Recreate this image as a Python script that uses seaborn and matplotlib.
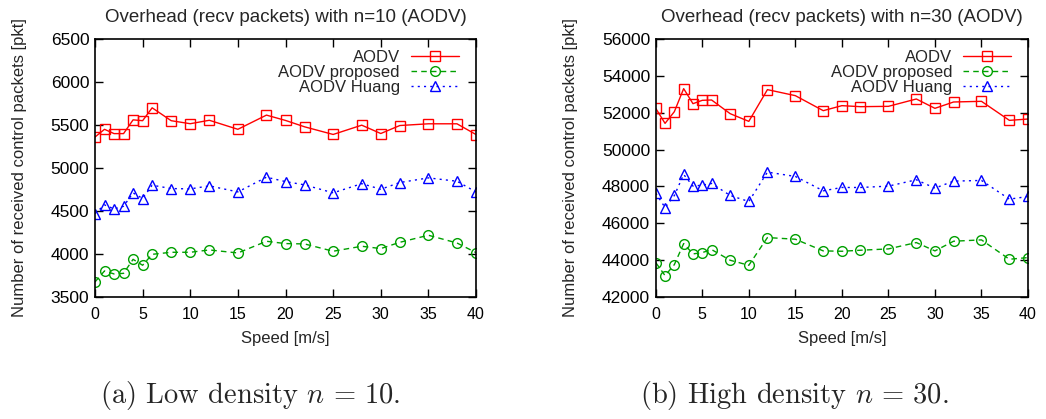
import matplotlib
matplotlib.use("Agg")
import matplotlib.pyplot as plt
import seaborn as sns
import pandas as pd

# Mobility speeds [m/s]
speed = [0, 1, 2, 3, 4, 5, 6, 8, 10, 12, 15, 18, 20, 22, 25, 28, 30, 32, 35, 38, 40]

# Received control packets, n = 10
aodv_n10 = [5360, 5450, 5400, 5400, 5560, 5550, 5700, 5550, 5515, 5555, 5450,
            5615, 5553, 5479, 5390, 5498, 5401, 5494, 5514, 5514, 5389]
proposed_n10 = [3675, 3803, 3768, 3775, 3938, 3869, 3996, 4020, 4020, 4047, 4012,
                4148, 4121, 4117, 4032, 4090, 4063, 4136, 4218, 4128, 4016]
huang_n10 = [4470, 4571, 4524, 4555, 4711, 4645, 4800, 4761, 4757, 4792, 4722,
             4893, 4842, 4804, 4711, 4818, 4753, 4831, 4885, 4846, 4721]

# Received control packets, n = 30
aodv_n30 = [52238, 51422, 52057, 53307, 52491, 52673, 52691, 51948, 51531, 53253, 52926,
            52111, 52383, 52328, 52346, 52745, 52238, 52582, 52618, 51585, 51658]
proposed_n30 = [43866, 43160, 43758, 44899, 44337, 44410, 44573, 43993, 43721, 45225, 45135,
                44501, 44482, 44537, 44609, 44954, 44501, 45026, 45099, 44048, 44138]
huang_n30 = [47635, 46856, 47508, 48650, 48016, 48070, 48161, 47508, 47182, 48777, 48541,
             47762, 47943, 47943, 48016, 48360, 47907, 48288, 48324, 47309, 47454]

series_names = ["AODV", "AODV proposed", "AODV Huang"]
titles = ["Overhead (recv packets) with n=10 (AODV)", "Overhead (recv packets) with n=30 (AODV)"]
captions = [r"(a) Low density $n\,=\,10$.", r"(b) High density $n\,=\,30$."]
y_ranges = [(3500, 6500, 500), (42000, 56000, 2000)]

sns.set_style("ticks")
plt.rcParams["font.family"] = ["Liberation Sans", "DejaVu Sans"]
plt.rcParams["mathtext.fontset"] = "cm"

styles = {
    "AODV": dict(color="#ff0000", marker="s", linestyle="-"),
    "AODV proposed": dict(color="#00a000", marker="o", linestyle=(0, (4, 3))),
    "AODV Huang": dict(color="#0000ff", marker="^", linestyle=(0, (1.5, 3))),
}

fig = plt.figure(figsize=(10.46, 4.19), dpi=100)
ax_boxes = [[0.0908, 0.2912, 0.3643, 0.6157], [0.6269, 0.2912, 0.3559, 0.6157]]
caption_x = [250 / 1046, 794 / 1046]
data_sets = [[aodv_n10, proposed_n10, huang_n10], [aodv_n30, proposed_n30, huang_n30]]

for i in range(2):
    ax = fig.add_axes(ax_boxes[i])
    rows = []
    for name, vals in zip(series_names, data_sets[i]):
        for s, v in zip(speed, vals):
            rows.append({"speed": s, "packets": v, "series": name})
    df = pd.DataFrame(rows)
    for name in series_names:
        st = styles[name]
        sns.lineplot(data=df[df["series"] == name], x="speed", y="packets", ax=ax,
                     color=st["color"], marker=st["marker"], linestyle=st["linestyle"],
                     markersize=7 if st["marker"] != "^" else 6.5,
                     markerfacecolor="none", markeredgecolor=st["color"],
                     markeredgewidth=1.0, linewidth=1.0, label=name)
    lo, hi, step = y_ranges[i]
    ax.set_xlim(0, 40)
    ax.set_ylim(lo, hi)
    ax.set_xticks(range(0, 41, 5))
    ax.set_yticks(range(lo, hi + 1, step))
    ax.tick_params(direction="in", length=6, width=1, top=True, right=True,
                   colors="black")
    ax.tick_params(axis="x", labelsize=11.5, pad=7)
    ax.tick_params(axis="y", labelsize=12.5, pad=4)
    for sp in ax.spines.values():
        sp.set_visible(True)
        sp.set_linewidth(1.2)
        sp.set_color("black")
    ax.set_title(titles[i], fontsize=13.5, pad=12)
    ax.set_xlabel("Speed [m/s]", fontsize=12, labelpad=7)
    ax.set_ylabel("Number of received control packets [pkt]", fontsize=12, labelpad=17)

    # gnuplot-style key: labels right-aligned to the left of the samples
    ax.legend(loc="upper right", frameon=False, markerfirst=False, fontsize=12,
              handlelength=2.9, handletextpad=0.65, labelspacing=0.0,
              borderaxespad=0.0, borderpad=0.0, bbox_to_anchor=(0.955, 0.958))

    fig.text(caption_x[i], 16 / 419, captions[i], ha="center", va="baseline",
             fontsize=20.5, family="cmr10")

fig.savefig("out.png", dpi=100)
